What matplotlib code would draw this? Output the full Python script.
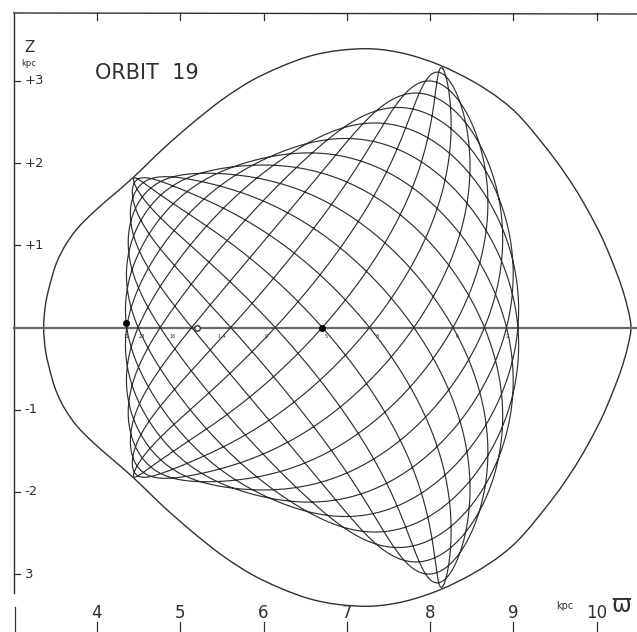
import numpy as np
import matplotlib
matplotlib.use("Agg")
import matplotlib.pyplot as plt
from matplotlib.path import Path
from matplotlib.patches import PathPatch

# ---------------- data ----------------
# zero-velocity curve (upper half; the lower half is its mirror image)
env_w = [3.36, 3.385, 3.455, 3.52, 3.62, 3.76, 3.955, 4.18, 4.44, 4.80, 5.15, 5.50,
         5.85, 6.20, 6.55, 6.90, 7.30, 7.70, 8.12, 8.52, 8.85, 9.11, 9.48, 9.72, 9.89,
         10.05, 10.17, 10.29, 10.37, 10.41]
env_z = [0.00, 0.30, 0.60, 0.80, 1.00, 1.20, 1.40, 1.60, 1.83, 2.18, 2.49, 2.77,
         3.00, 3.17, 3.30, 3.37, 3.39, 3.33, 3.19, 2.99, 2.77, 2.53, 2.07, 1.72, 1.43,
         1.12, 0.84, 0.52, 0.24, 0.00]

# corners and side extents of the region filled by the orbit
corner_w = [4.44, 8.14]        # left corners, right corners (kpc)
corner_z = [1.82, 3.17]        # |z| of left and right corners
side_w = [4.34, 9.07]          # left and right caustic at z = 0
top_sag = 0.33                 # inward sag of the upper/lower caustic
n_loops = 12                   # revolutions drawn
phase0 = np.pi / 24

# axis ticks / labels
x_ticks = [4, 5, 6, 7, 8, 9, 10]
x_labels = ["4", "5", "6", "7", "8", "9", "10"]
z_ticks = [3, 2, 1, -1, -2, -3]
z_labels = ["+3", "+2", "+1", "-1", "-2", "3"]

# numbered crossings of the plane z = 0
cross_w = [4.35, 4.54, 4.91, 5.50, 6.03, 6.75, 7.36, 8.32, 8.92]
cross_txt = ["11", "23", "16", "1 4", "9", "5", "8", "6", "2"]
dot_w = [4.35, 6.70]
ring_w = [5.20]

# ---------------- figure ----------------
W, H = 637, 632
fig = plt.figure(figsize=(W / 100, H / 100), dpi=100)
ax = fig.add_axes([0, 0, 1, 1])
px_w = lambda px: 4 + (px - 97) / 83.3
px_z = lambda py: (327.5 - py) / 82.2
ax.set_xlim(px_w(0), px_w(W))
ax.set_ylim(px_z(H), px_z(0))
ax.axis("off")

ink = "#303030"

# frame
ax.plot([3.0, 3.0], [px_z(13), px_z(593)], color=ink, lw=1.0)
ax.plot([3.0, px_w(W)], [px_z(13), px_z(14)], color=ink, lw=1.0)
ax.plot([3.02, 3.02], [px_z(607), px_z(H)], color=ink, lw=0.9)
for xt in x_ticks:
    ax.plot([xt, xt], [px_z(13), px_z(20)], color=ink, lw=0.9)
    ax.plot([xt, xt], [px_z(622), px_z(H)], color=ink, lw=0.9)
for zt, lab in zip(z_ticks, z_labels):
    ax.plot([3.0, 3.08], [zt, zt], color=ink, lw=0.9)
    ax.text(3.13, zt, lab, fontsize=9.5, color=ink, va="center", ha="left")
for xt, lab in zip(x_ticks, x_labels):
    ax.text(xt, px_z(613), lab, fontsize=12, color=ink, ha="center", va="center")
ax.text(px_w(565), px_z(606), "kpc", fontsize=7, color=ink, ha="center", va="center")
ax.text(px_w(621), px_z(605), "ϖ", fontsize=17, color=ink, ha="center", va="center")
ax.text(px_w(30), px_z(47), "Z", fontsize=11, color=ink, ha="center", va="center")
ax.text(px_w(29), px_z(63), "kpc", fontsize=6, color=ink, ha="center", va="center")
ax.text(px_w(95), px_z(73), "ORBIT  19", fontsize=15, color=ink, ha="left", va="center")

# z = 0 line
ax.plot([3.0, px_w(W)], [0, 0], color="#6a6a6a", lw=1.6)

# zero-velocity curve: closed smooth Bezier path through the read points
ew = np.array(env_w)
ez = np.array(env_z)
loop = np.column_stack([np.concatenate([ew, ew[-2:0:-1]]),
                        np.concatenate([ez, -ez[-2:0:-1]])])
n = len(loop)
verts = [loop[0]]
codes = [Path.MOVETO]
for i in range(n):
    p0, p1, p2, p3 = loop[i - 1], loop[i], loop[(i + 1) % n], loop[(i + 2) % n]
    verts += [p1 + (p2 - p0) / 6, p2 - (p3 - p1) / 6, p2]
    codes += [Path.CURVE4] * 3
ax.add_patch(PathPatch(Path(verts, codes), fill=False, edgecolor=ink, lw=1.0))

# orbit
t = np.linspace(0, 2 * np.pi * n_loops, 40000)
u = np.cos(t)
v = np.cos((1 + 1 / n_loops) * t + phase0)
a = (1 - u) / 2
b = (1 + u) / 2
bL = side_w[0] - corner_w[0]
bR = side_w[1] - corner_w[1]
w = corner_w[0] * a + corner_w[1] * b + (1 - v ** 2) * (bL * a + bR * b)
z = v * (corner_z[0] * a + corner_z[1] * b) - top_sag * (1 - u ** 2) * v ** 3
ax.plot(w, z, color=ink, lw=0.85)

# crossing marks
ax.plot(dot_w, [0.05, 0.0], "o", color="black", ms=4)
ax.plot(ring_w, [0.0], "o", mfc="white", mec=ink, ms=4)
for cw, ct in zip(cross_w, cross_txt):
    ax.text(cw, -0.11, ct, fontsize=3.5, color=ink, ha="center", va="center")

fig.savefig("out.png", dpi=100)
